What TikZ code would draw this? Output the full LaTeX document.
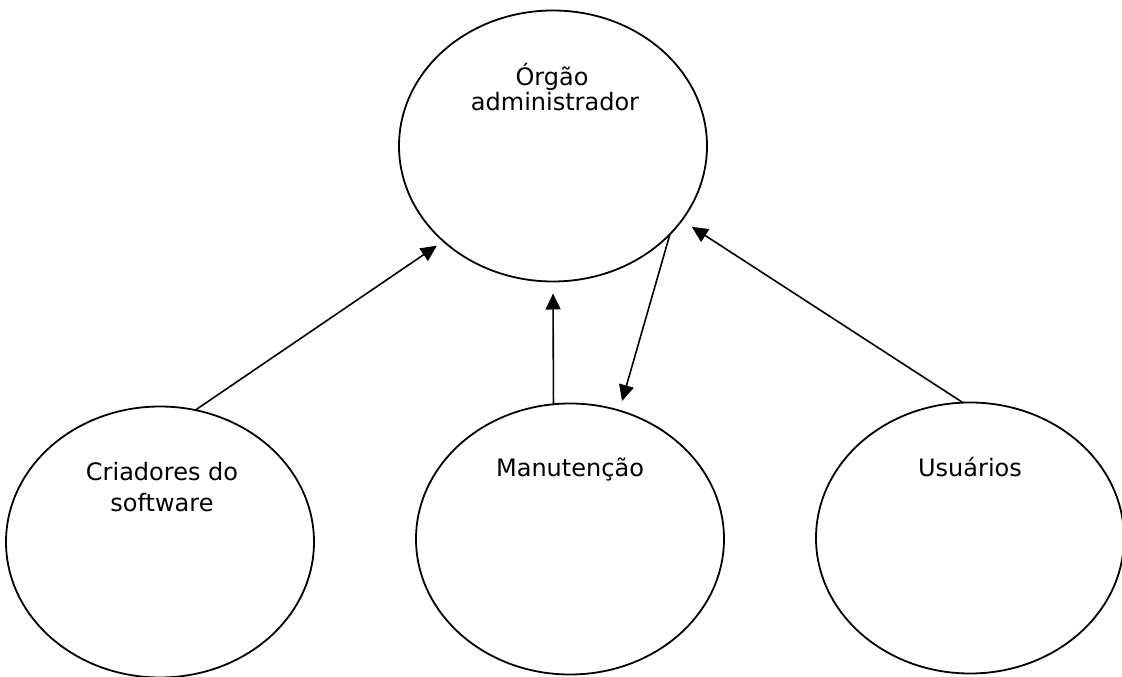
\documentclass[tikz,border=0pt]{standalone}
\usepackage{fontspec}
\setmainfont{DejaVu Sans}
\usetikzlibrary{arrows.meta,shapes.geometric}
\begin{document}
\begin{tikzpicture}[x=1pt,y=1pt,
  bubble/.style={draw, ellipse, line width=1.8pt, minimum width=308pt,
                 minimum height=271pt, inner sep=0pt, outer sep=0pt},
  lbl/.style={anchor=base, inner sep=0pt, font=\fontsize{24}{29}\selectfont},
  link/.style={line width=1.6pt, -{Triangle[length=16pt,width=15pt]}}]
\useasboundingbox (0,0) rectangle (1122,677);

% the four bubbles
\node[bubble] (top)   at (553,531) {};
\node[bubble] (left)  at (160,135) {};
\node[bubble] (mid)   at (570,138) {};
\node[bubble] (right) at (970,139) {};

% labels, set near the top of each bubble
\node[lbl] (t1) at (552,591) {Órgão};
\node[lbl] (t2) at (555,566) {administrador};
\node[lbl] (l1) at (162,196) {Criadores do};
\node[lbl] (l2) at (162,165) {software};
\node[lbl] (m1) at (570,200) {Manutenção};
\node[lbl] (r1) at (970,200) {Usuários};

% connectors
\draw[link, shorten >=8pt]  (left.75)  -- (top.221);
\draw[link, shorten >=12pt] (mid.97)   -- (top.270);
\draw[link, shorten >=10pt] (top.323)  -- (mid.69);
\draw[link, shorten >=12pt] (right.93) -- (top.330);
\end{tikzpicture}
\end{document}
